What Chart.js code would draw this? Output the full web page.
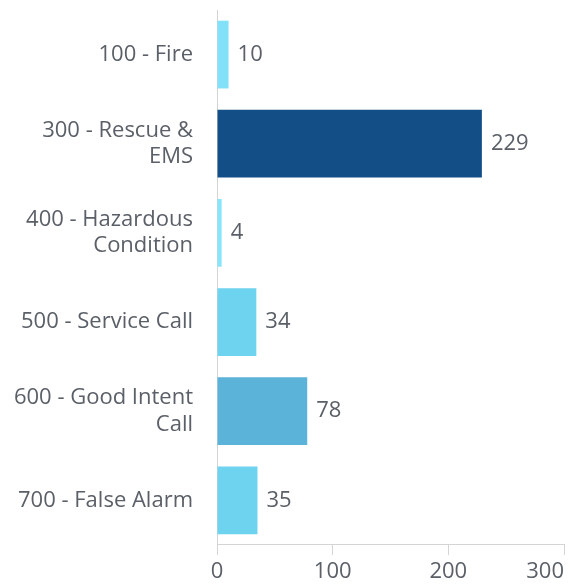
<!DOCTYPE html>
<html>
<head>
<meta charset="utf-8">
<script src="https://cdn.jsdelivr.net/npm/chart.js@4/dist/chart.umd.min.js"></script>
<style>
  html, body { margin: 0; padding: 0; background: #fff; }
  .wrap { width: 570px; height: 584px; }
</style>
</head>
<body>
<div class="wrap"><canvas id="bar-chart"></canvas></div>
<script>
const categories = [
  '100 - Fire',
  ['300 - Rescue &', 'EMS'],
  ['400 - Hazardous', 'Condition'],
  '500 - Service Call',
  ['600 - Good Intent', 'Call'],
  '700 - False Alarm'
];
const incidents = [10, 229, 4, 34, 78, 35];
const barColors = ['#80e1f8', '#134e87', '#86e5fb', '#6dd3ef', '#5bb3d9', '#6dd3ef'];
const xTicks = [0, 100, 200, 300];

const textColor = '#5b6068';
const lineColor = '#d4d4d4';
const fontSize = 22;

// value labels at the end of each bar
const valueLabels = {
  id: 'valueLabels',
  afterDatasetsDraw(chart) {
    const ctx = chart.ctx;
    const meta = chart.getDatasetMeta(0);
    ctx.save();
    ctx.font = fontSize + 'px "Open Sans"';
    ctx.fillStyle = textColor;
    ctx.textAlign = 'left';
    ctx.textBaseline = 'middle';
    meta.data.forEach((bar, i) => {
      ctx.fillText(String(incidents[i]), bar.x + 9, bar.y);
    });
    ctx.restore();
  }
};

// first x label centred, last one kept inside (align: 'inner' handles the last)
const firstLabelCenter = {
  id: 'firstLabelCenter',
  beforeDraw(chart) {
    const items = chart.scales.x.getLabelItems();
    if (items.length) items[0].options.textAlign = 'center';
  }
};

const ctx = document.getElementById('bar-chart').getContext('2d');
new Chart(ctx, {
  type: 'bar',
  data: {
    labels: categories,
    datasets: [{
      label: 'incidents',
      data: incidents,
      backgroundColor: barColors,
      borderWidth: 0,
      barPercentage: 0.76,
      categoryPercentage: 1
    }]
  },
  options: {
    indexAxis: 'y',
    responsive: true,
    maintainAspectRatio: false,
    animation: false,
    layout: { padding: { top: 10, right: 6, bottom: -4, left: 0 } },
    plugins: {
      legend: { display: false },
      tooltip: { enabled: false }
    },
    scales: {
      x: {
        min: 0,
        max: 300,
        afterBuildTicks: (scale) => { scale.ticks = xTicks.map(v => ({ value: v })); },
        grid: { drawOnChartArea: false, drawTicks: true, tickLength: 10, color: lineColor },
        border: { color: lineColor },
        ticks: { align: 'inner', padding: 5, color: textColor, font: { family: 'Open Sans', size: fontSize, lineHeight: 1.05 }, maxRotation: 0 }
      },
      y: {
        afterFit: (scale) => {
          scale.width = 217;
          scale.paddingTop = 0;
          scale.paddingBottom = 0;
        },
        grid: { display: false, drawTicks: false },
        border: { display: true, color: lineColor },
        ticks: { padding: 24, color: textColor, font: { family: 'Open Sans', size: fontSize, lineHeight: 1.2 } }
      }
    }
  },
  plugins: [valueLabels, firstLabelCenter]
});
</script>
</body>
</html>
